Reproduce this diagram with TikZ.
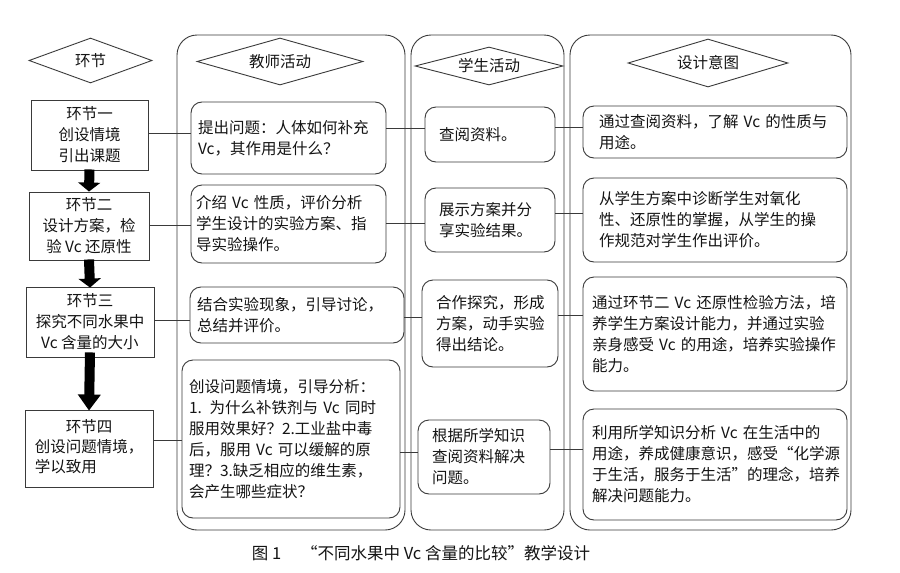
\documentclass[tikz,border=0pt]{standalone}
\usepackage{fontspec}
\setmainfont{Noto Sans CJK SC}
\usetikzlibrary{shapes.geometric,arrows.meta}
\definecolor{ink}{HTML}{141414}
\definecolor{ln}{HTML}{3A3A3A}
\tikzset{
  every node/.style={text=ink, font=\fontsize{15.5}{21}\selectfont},
  sq/.style={draw=ln, line width=0.9pt, rectangle, inner sep=0pt, align=center},
  rb/.style={draw=ln, line width=0.9pt, rectangle, rounded corners=11pt, inner sep=0pt, align=left},
  colbox/.style={draw=ln, line width=0.9pt, rounded corners=20pt},
  hd/.style={draw=ln, line width=0.9pt, diamond, aspect=3, inner sep=0pt},
  dim/.style n args={3}{minimum width=#1pt, minimum height=#2pt, text width=#3pt},
  conn/.style={draw=ln, line width=0.8pt},
  blk/.style={line width=10pt, black, -{Triangle[width=22pt,length=#1pt]}}
}
\begin{document}
\begin{tikzpicture}[x=1pt,y=-1pt]
\useasboundingbox[fill=white] (0,0) rectangle (900,573);

% columns
\draw[colbox] (177,35) rectangle (405,530);
\draw[colbox] (411,35) rectangle (564,530);
\draw[colbox] (570,35) rectangle (851,530);

% headers
\node[hd, minimum width=123pt, minimum height=45pt] (h0) at (90.5,60.5) {环节};
\node[hd, minimum width=166pt, minimum height=47pt] (h1) at (280,61.5) {教师活动};
\node[hd, minimum width=148pt, minimum height=38pt] (h2) at (489,66) {学生活动};
\node[hd, minimum width=160pt, minimum height=48pt] (h3) at (708,63) {设计意图};

% left column
\node[sq, minimum width=117pt, minimum height=70pt] (b1) at (89.5,135) {环节一\\创设情境\\引出课题};
\node[sq, minimum width=120pt, minimum height=68pt] (b2) at (89,226) {环节二\\设计方案，检\\验 Vc 还原性};
\node[sq, minimum width=128pt, minimum height=70pt] (b3) at (90,322) {环节三\\探究不同水果中\\Vc 含量的大小};
\node[sq, minimum width=128pt, minimum height=77pt] (b4) at (89,448.5)
  {\begin{tabular}{@{}l@{}}\multicolumn{1}{@{}c@{}}{环节四}\\[-1pt]创设问题情境，\\[-1pt]学以致用\end{tabular}};

\draw[blk=9] ([yshift=1pt]b1.south) -- (b2.north);
\draw[blk=9] ([yshift=1pt]b2.south) -- ([yshift=-1pt]b3.north);
\draw[blk=16] ([yshift=5pt]b3.south) -- ([yshift=-1pt]b4.north);

% teacher column
\node[rb, dim={195}{72}{181}] (t1) at (288.5,138) {提出问题：人体如何补充\\Vc，其作用是什么？};
\node[rb, dim={195}{78}{185}] (t2) at (288.5,224) {介绍 Vc 性质，评价分析\\学生设计的实验方案、指\\导实验操作。};
\node[rb, dim={214}{56}{200}] (t3) at (297,315) {结合实验现象，引导讨论，\\总结并评价。};
\node[rb, dim={218}{158}{204}] (t4) at (291,439) {创设问题情境，引导分析：\\1. 为什么补铁剂与 Vc 同时\\服用效果好？2.工业盐中毒\\后，服用 Vc 可以缓解的原\\理？3.缺乏相应的维生素，\\会产生哪些症状？};

% student column
\node[rb, dim={130}{55}{102}] (s1) at (490,134.5) {查阅资料。};
\node[rb, dim={130}{64}{102}] (s2) at (490,220) {展示方案并分\\享实验结果。};
\node[rb, dim={136}{87}{108}] (s3) at (490,323.5) {合作探究，形成\\方案，动手实验\\得出结论。};
\node[rb, dim={132}{74}{104}] (s4) at (484,457) {根据所学知识\\查阅资料解决\\问题。};

% design column
\node[rb, dim={264}{52}{232}] (d1) at (715,132) {通过查阅资料，了解 Vc 的性质与\\用途。};
\node[rb, dim={264}{84}{232}] (d2) at (715,220) {从学生方案中诊断学生对氧化\\性、还原性的掌握，从学生的操\\作规范对学生作出评价。};
\node[rb, dim={264}{114}{246}] (d3) at (715,334) {通过环节二 Vc 还原性检验方法，培\\养学生方案设计能力，并通过实验\\亲身感受 Vc 的用途，培养实验操作\\能力。};
\node[rb, dim={264}{111}{246}] (d4) at (715,464.5) {利用所学知识分析 Vc 在生活中的\\用途，养成健康意识，感受“化学源\\于生活，服务于生活”的理念，培养\\解决问题能力。};

% connectors
\draw[conn] (b1.east |- 0,133) -- (t1.west |- 0,133);
\draw[conn] (b2.east |- 0,225) -- (t2.west |- 0,225);
\draw[conn] (b3.east |- 0,320) -- (t3.west |- 0,320);
\draw[conn] (b4.east |- 0,440) -- (t4.west |- 0,440);
\draw[conn] (t1.east |- 0,128) -- (s1.west |- 0,128);
\draw[conn] (t2.east |- 0,223) -- (s2.west |- 0,223);
\draw[conn] (t3.east |- 0,317) -- (s3.west |- 0,317);
\draw[conn] (t4.east |- 0,452) -- (s4.west |- 0,452);
\draw[conn] (s1.east |- 0,127) -- (d1.west |- 0,127);
\draw[conn] (s2.east |- 0,213) -- (d2.west |- 0,213);
\draw[conn] (s3.east |- 0,315) -- (d3.west |- 0,315);
\draw[conn] (s4.east |- 0,449) -- (d4.west |- 0,449);

% caption
\node[font=\fontsize{16.5}{19}\selectfont] (cap) at (421,553) {图 1\hspace{1.2em}“不同水果中 Vc 含量的比较”教学设计};
\end{tikzpicture}
\end{document}
